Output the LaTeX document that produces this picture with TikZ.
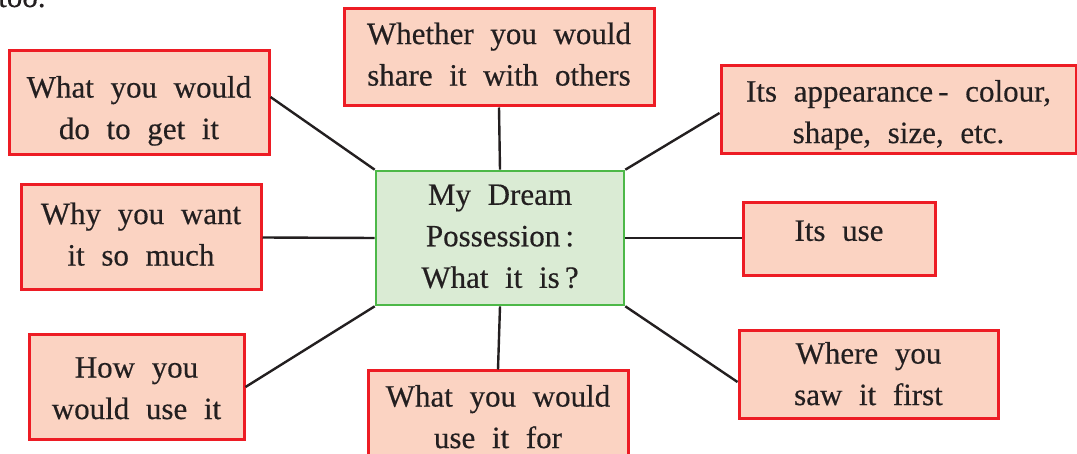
\documentclass[tikz,border=0pt]{standalone}
\usepackage{fontspec}
\setmainfont{Liberation Serif}[WordSpace=2.15,FakeBold=0.4]
\definecolor{ink}{HTML}{231F20}
\definecolor{peach}{HTML}{FBD3C2}
\definecolor{redline}{HTML}{ED1C24}
\definecolor{greenfill}{HTML}{DAEBD4}
\definecolor{greenline}{HTML}{4DB848}
\newcommand\tlines[2]{\raisebox{#1}[\height][\depth]{\begin{tabular}{@{}c@{}}#2\end{tabular}}}
\tikzset{
  txt/.style={font=\fontsize{31}{41.5}\selectfont, text=ink, align=center, inner sep=0pt},
  box/.style={txt, draw=redline, fill=peach, line width=3pt, rectangle},
  hub/.style={txt, draw=greenline, fill=greenfill, line width=2.6pt, rectangle},
  link/.style={draw=ink, line width=2.4pt}
}
\begin{document}
\begin{tikzpicture}[x=1pt,y=-1pt]
\clip (0,0) rectangle (1077,454);
\fill[white] (0,0) rectangle (1077,454);
\node[txt, anchor=base west] (too) at (-2,7) {too.};
\node[hub, minimum width=248pt, minimum height=134pt] (hub) at (500,238) {\tlines{0pt}{My Dream\\Possession\,:\\What it is\,?}};
\node[box, minimum width=310pt, minimum height=97pt] (share) at (499,57.5) {\tlines{1pt}{Whether you would\\share it with others}};
\node[box, minimum width=260pt, minimum height=104pt] (get) at (139,103) {\tlines{-7pt}{What you would\\do to get it}};
\node[box, minimum width=355pt, minimum height=88pt] (look) at (898.5,110) {\tlines{-4pt}{Its appearance\,- colour,\\shape, size, etc.}};
\node[box, minimum width=240pt, minimum height=105pt] (why) at (141,237.5) {\tlines{1pt}{Why you want\\it so much}};
\node[box, minimum width=192pt, minimum height=73pt] (use) at (839,239.5) {\tlines{7pt}{Its use}};
\node[box, minimum width=215pt, minimum height=104pt] (how) at (136.5,387) {\tlines{-3pt}{How you\\would use it}};
\node[box, minimum width=260pt, minimum height=104pt] (for) at (498,423) {\tlines{4pt}{What you would\\use it for}};
\node[box, minimum width=259pt, minimum height=88pt] (where) at (868.5,375) {\tlines{-1pt}{Where you\\saw it first}};
\draw[link] (share.south) -- (hub.north);
\draw[link] ([yshift=6pt]get.east) -- (hub.north west);
\draw[link] ([yshift=-3pt]look.west) -- (hub.north east);
\draw[link] (why.east) -- (hub.west);
\draw[link] (hub.east) -- (hub.east -| use.west);
\draw[link] (how.east) -- (hub.south west);
\draw[link] (hub.south) -- (for.north);
\draw[link] ([yshift=-7pt]where.west) -- (hub.south east);
\end{tikzpicture}
\end{document}
